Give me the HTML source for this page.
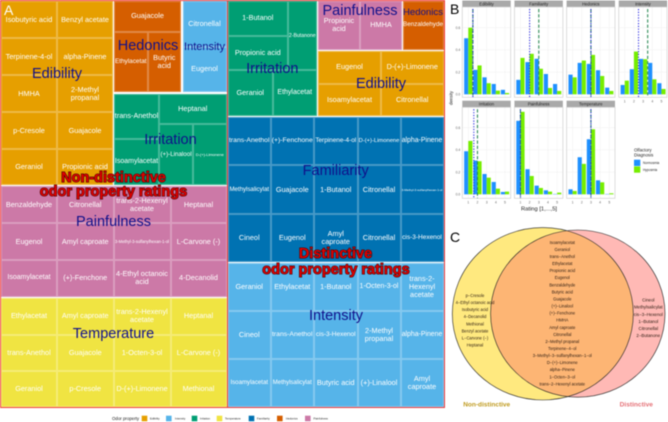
<!DOCTYPE html>
<html lang="en">
<head>
<meta charset="utf-8">
<title>Odor property ratings figure</title>
<style>
html,body{margin:0;padding:0;background:#fff}
#fig{position:relative;width:668px;height:422px;overflow:hidden;font-family:"Liberation Sans",sans-serif;filter:blur(.4px)}
.c{position:absolute;box-sizing:border-box;display:flex;align-items:center;justify-content:center;text-align:center;color:#fff;font-size:7.3px;line-height:8px;white-space:nowrap;border:.5px solid rgba(255,255,255,.28)}
.ed{background:#E69F00}.in{background:#56B4E9}.ir{background:#009E73}.te{background:#F0E442}.fa{background:#0072B2}.he{background:#D55E00}.pa{background:#CC79A7}
.g{position:absolute;transform:translate(-50%,-50%);font-size:14.5px;line-height:16px;color:#10108a;white-space:nowrap}
.o{position:absolute;transform:translate(-50%,-50%);font-size:14.5px;line-height:16px;font-weight:bold;color:#e00000;white-space:nowrap;-webkit-text-stroke:1.1px #3a0505;paint-order:stroke fill}
.b{position:absolute;box-sizing:border-box;border:1px solid #f33b3b;pointer-events:none}
.l{position:absolute;font-size:14px;line-height:14px}
svg{position:absolute;left:0;top:0}
</style>
</head>
<body>
<div id="fig">

<div>
<div class="c ed" style="left:1px;top:1px;width:56px;height:37px">Isobutyric acid</div>
<div class="c ed" style="left:57px;top:1px;width:56px;height:37px">Benzyl acetate</div>
<div class="c ed" style="left:1px;top:38px;width:56px;height:37px">Terpinene-4-ol</div>
<div class="c ed" style="left:57px;top:38px;width:56px;height:37px">alpha-Pinene</div>
<div class="c ed" style="left:1px;top:75px;width:56px;height:37px">HMHA</div>
<div class="c ed" style="left:57px;top:75px;width:56px;height:37px">2-Methyl<br>propanal</div>
<div class="c ed" style="left:1px;top:112px;width:56px;height:37px">p-Cresole</div>
<div class="c ed" style="left:57px;top:112px;width:56px;height:37px">Guajacole</div>
<div class="c ed" style="left:1px;top:149px;width:56px;height:36px">Geraniol</div>
<div class="c ed" style="left:57px;top:149px;width:56px;height:36px">Propionic acid</div>

<div class="c he" style="left:114px;top:1px;width:67px;height:30.5px">Guajacole</div>
<div class="c he" style="left:114px;top:31.5px;width:33.5px;height:60.5px;font-size:6.4px">Ethylacetat</div>
<div class="c he" style="left:147.5px;top:31.5px;width:33.5px;height:60.5px">Butyric<br>acid</div>

<div class="c in" style="left:182.5px;top:1px;width:44px;height:45.5px">Citronellal</div>
<div class="c in" style="left:182.5px;top:46.5px;width:44px;height:45.5px">Eugenol</div>

<div class="c ir" style="left:114px;top:93.5px;width:45px;height:45.5px">trans-Anethol</div>
<div class="c ir" style="left:114px;top:139px;width:45px;height:46px;font-size:7px">Isoamylacetat</div>
<div class="c ir" style="left:159px;top:93.5px;width:67.5px;height:30.5px">Heptanal</div>
<div class="c ir" style="left:159px;top:124px;width:34px;height:61px;font-size:6.2px">(+)-Linalool</div>
<div class="c ir" style="left:193px;top:124px;width:33.5px;height:61px;font-size:4px">D-(+)-Limonene</div>

<div class="c pa" style="left:1px;top:186px;width:56px;height:37px">Benzaldehyde</div>
<div class="c pa" style="left:57px;top:186px;width:56.5px;height:37px">Citronellal</div>
<div class="c pa" style="left:113.5px;top:186px;width:57px;height:37px">trans-2-Hexenyl<br>acetate</div>
<div class="c pa" style="left:170.5px;top:186px;width:56px;height:37px">Heptanal</div>
<div class="c pa" style="left:1px;top:223px;width:56px;height:37px">Eugenol</div>
<div class="c pa" style="left:57px;top:223px;width:56.5px;height:37px">Amyl caproate</div>
<div class="c pa" style="left:113.5px;top:223px;width:57px;height:37px;font-size:4.1px">3-Methyl-3-sulfanylhexan-1-ol</div>
<div class="c pa" style="left:170.5px;top:223px;width:56px;height:37px">L-Carvone (-)</div>
<div class="c pa" style="left:1px;top:260px;width:56px;height:36.5px;font-size:7px">Isoamylacetat</div>
<div class="c pa" style="left:57px;top:260px;width:56.5px;height:36.5px">(+)-Fenchone</div>
<div class="c pa" style="left:113.5px;top:260px;width:57px;height:36.5px">4-Ethyl octanoic<br>acid</div>
<div class="c pa" style="left:170.5px;top:260px;width:56px;height:36.5px">4-Decanolid</div>

<div class="c te" style="left:1px;top:297.5px;width:56px;height:37px">Ethylacetat</div>
<div class="c te" style="left:57px;top:297.5px;width:56.5px;height:37px">Amyl caproate</div>
<div class="c te" style="left:113.5px;top:297.5px;width:57px;height:37px">trans-2-Hexenyl<br>acetate</div>
<div class="c te" style="left:170.5px;top:297.5px;width:56px;height:37px">Heptanal</div>
<div class="c te" style="left:1px;top:334.5px;width:56px;height:36.5px">trans-Anethol</div>
<div class="c te" style="left:57px;top:334.5px;width:56.5px;height:36.5px">Guajacole</div>
<div class="c te" style="left:113.5px;top:334.5px;width:57px;height:36.5px">1-Octen-3-ol</div>
<div class="c te" style="left:170.5px;top:334.5px;width:56px;height:36.5px">L-Carvone (-)</div>
<div class="c te" style="left:1px;top:371px;width:56px;height:36px">Geraniol</div>
<div class="c te" style="left:57px;top:371px;width:56.5px;height:36px">p-Cresole</div>
<div class="c te" style="left:113.5px;top:371px;width:57px;height:36px">D-(+)-Limonene</div>
<div class="c te" style="left:170.5px;top:371px;width:56px;height:36px">Methional</div>

<div class="g" style="left:57px;top:74px">Edibility</div>
<div class="g" style="left:148px;top:46px">Hedonics</div>
<div class="g" style="left:204.5px;top:47px;font-size:11px">Intensity</div>
<div class="g" style="left:170.5px;top:139.5px">Irritation</div>
<div class="g" style="left:113.5px;top:222px">Painfulness</div>
<div class="g" style="left:113.5px;top:334px">Temperature</div>
<div class="b" style="left:0;top:0;width:227.5px;height:408px"></div>
</div>

<div>
<div class="c ir" style="left:228px;top:1px;width:59.5px;height:34.5px">1-Butanol</div>
<div class="c ir" style="left:228px;top:35.5px;width:59.5px;height:34.5px">Propionic acid</div>
<div class="c ir" style="left:287.5px;top:1px;width:29.5px;height:69px;font-size:5.2px">2-Butanone</div>
<div class="c ir" style="left:228px;top:70px;width:44.5px;height:46px">Geraniol</div>
<div class="c ir" style="left:272.5px;top:70px;width:44.5px;height:46px;font-size:7px">Ethylacetat</div>

<div class="c pa" style="left:318px;top:1px;width:42px;height:48.5px">Propionic<br>acid</div>
<div class="c pa" style="left:360px;top:1px;width:42px;height:48.5px">HMHA</div>
<div class="c he" style="left:402.5px;top:1px;width:41px;height:48.5px;font-size:6.3px">Benzaldehyde</div>

<div class="c ed" style="left:318px;top:51px;width:63px;height:32.5px">Eugenol</div>
<div class="c ed" style="left:381px;top:51px;width:62.5px;height:32.5px">D-(+)-Limonene</div>
<div class="c ed" style="left:318px;top:83.5px;width:63px;height:32.5px">Isoamylacetat</div>
<div class="c ed" style="left:381px;top:83.5px;width:62.5px;height:32.5px">Citronellal</div>

<div class="c fa" style="left:228px;top:117px;width:42.5px;height:48px;font-size:6.8px">trans-Anethol</div>
<div class="c fa" style="left:270.5px;top:117px;width:43.5px;height:48px;font-size:6.8px">(+)-Fenchone</div>
<div class="c fa" style="left:314px;top:117px;width:43.5px;height:48px;font-size:6.4px">Terpinene-4-ol</div>
<div class="c fa" style="left:357.5px;top:117px;width:43px;height:48px;font-size:5.8px">D-(+)-Limonene</div>
<div class="c fa" style="left:400.5px;top:117px;width:43px;height:48px;font-size:6.9px">alpha-Pinene</div>
<div class="c fa" style="left:228px;top:165px;width:42.5px;height:49px;font-size:6.1px">Methylsalicylat</div>
<div class="c fa" style="left:270.5px;top:165px;width:43.5px;height:49px">Guajacole</div>
<div class="c fa" style="left:314px;top:165px;width:43.5px;height:49px">1-Butanol</div>
<div class="c fa" style="left:357.5px;top:165px;width:43px;height:49px">Citronellal</div>
<div class="c fa" style="left:400.5px;top:165px;width:43px;height:49px;font-size:3.1px">3-Methyl-3-sulfanylhexan-1-ol</div>
<div class="c fa" style="left:228px;top:214px;width:42.5px;height:48px">Cineol</div>
<div class="c fa" style="left:270.5px;top:214px;width:43.5px;height:48px">Eugenol</div>
<div class="c fa" style="left:314px;top:214px;width:43.5px;height:48px">Amyl<br>caproate</div>
<div class="c fa" style="left:357.5px;top:214px;width:43px;height:48px">Citronellal</div>
<div class="c fa" style="left:400.5px;top:214px;width:43px;height:48px;font-size:6.5px">cis-3-Hexenol</div>

<div class="c in" style="left:228px;top:263px;width:42.5px;height:48px">Geraniol</div>
<div class="c in" style="left:270.5px;top:263px;width:43.5px;height:48px">Ethylacetat</div>
<div class="c in" style="left:314px;top:263px;width:43.5px;height:48px">1-Butanol</div>
<div class="c in" style="left:357.5px;top:263px;width:43px;height:48px;font-size:7px">1-Octen-3-ol</div>
<div class="c in" style="left:400.5px;top:263px;width:43px;height:48px">trans-2-<br>Hexenyl<br>acetate</div>
<div class="c in" style="left:228px;top:311px;width:42.5px;height:48px">Cineol</div>
<div class="c in" style="left:270.5px;top:311px;width:43.5px;height:48px;font-size:6.8px">trans-Anethol</div>
<div class="c in" style="left:314px;top:311px;width:43.5px;height:48px;font-size:6.5px">cis-3-Hexenol</div>
<div class="c in" style="left:357.5px;top:311px;width:43px;height:48px">2-Methyl<br>propanal</div>
<div class="c in" style="left:400.5px;top:311px;width:43px;height:48px;font-size:6.9px">alpha-Pinene</div>
<div class="c in" style="left:228px;top:359px;width:42.5px;height:48px;font-size:6.1px">Isoamylacetat</div>
<div class="c in" style="left:270.5px;top:359px;width:43.5px;height:48px;font-size:6px">Methylsalicylat</div>
<div class="c in" style="left:314px;top:359px;width:43.5px;height:48px">Butyric acid</div>
<div class="c in" style="left:357.5px;top:359px;width:43px;height:48px">(+)-Linalool</div>
<div class="c in" style="left:400.5px;top:359px;width:43px;height:48px">Amyl<br>caproate</div>

<div class="g" style="left:272.3px;top:69px">Irritation</div>
<div class="g" style="left:360px;top:11px">Painfulness</div>
<div class="g" style="left:423px;top:12.7px;font-size:9.6px">Hedonics</div>
<div class="g" style="left:381px;top:84px">Edibility</div>
<div class="g" style="left:335.7px;top:170.7px">Familiarity</div>
<div class="g" style="left:336px;top:316px">Intensity</div>
<div class="b" style="left:227px;top:0;width:217.5px;height:408px"></div>
</div>

<div class="o" style="left:113.5px;top:178px">Non-distinctive</div>
<div class="o" style="left:113.5px;top:191.5px">odor property ratings</div>
<div class="o" style="left:335.5px;top:254px">Distinctive</div>
<div class="o" style="left:336px;top:270px">odor property ratings</div>

<div class="l" style="left:4px;top:3px;color:#fff">A</div>
<div class="l" style="left:450px;top:2px;color:#000">B</div>
<div class="l" style="left:450px;top:230px;color:#000">C</div>

<svg width="668" height="422" viewBox="0 0 668 422" font-family="Liberation Sans, sans-serif">
  <g font-size="2.8" fill="#222">
    <text x="112" y="420" font-size="4.4">Odor property</text>
    <rect x="141.7" y="415.7" width="5.6" height="5.6" fill="#E69F00"/>
    <text x="150" y="419.5">Edibility</text>
    <rect x="166" y="415.7" width="5.6" height="5.6" fill="#56B4E9"/>
    <text x="175" y="419.5">Intensity</text>
    <rect x="191.7" y="415.7" width="5.6" height="5.6" fill="#009E73"/>
    <text x="200" y="419.5">Irritation</text>
    <rect x="216.7" y="415.7" width="5.6" height="5.6" fill="#F0E442"/>
    <text x="225" y="419.5">Temperature</text>
    <rect x="248.7" y="415.7" width="5.6" height="5.6" fill="#0072B2"/>
    <text x="257" y="419.5">Familiarity</text>
    <rect x="277" y="415.7" width="5.6" height="5.6" fill="#D55E00"/>
    <text x="286" y="419.5">Hedonics</text>
    <rect x="305" y="415.7" width="5.6" height="5.6" fill="#CC79A7"/>
    <text x="313.5" y="419.5">Painfulness</text>
  </g>

  <g id="facets"></g>

  <g>
    <text x="539" y="210.5" font-size="5.8" text-anchor="middle" fill="#222">Rating [1,...,5]</text>
    <text transform="translate(452.5,98) rotate(-90)" font-size="4.4" text-anchor="middle" fill="#222">density</text>
  </g>
  <g>
    <text x="634" y="151.5" font-size="4.4" fill="#222">Olfactory</text>
    <text x="634" y="156.5" font-size="4.4" fill="#222">Diagnosis</text>
    <rect x="634" y="159.7" width="6.3" height="6.3" fill="#1E90FF"/>
    <text x="643" y="164" font-size="3.2" fill="#222">Normosmia</text>
    <rect x="634" y="166.4" width="6.3" height="6.3" fill="#76EE00"/>
    <text x="643" y="171" font-size="3.2" fill="#222">Hyposmia</text>
  </g>

  <g>
    <defs><clipPath id="yc"><ellipse cx="542.8" cy="313.8" rx="90.5" ry="86.2"/></clipPath></defs>
    <ellipse cx="542.8" cy="313.8" rx="90.5" ry="86.2" fill="#FFE97F"/>
    <ellipse cx="577.8" cy="313.6" rx="87.2" ry="83.6" fill="#FFB9B5"/>
    <ellipse cx="577.8" cy="313.6" rx="87.2" ry="83.6" fill="#FDB574" clip-path="url(#yc)"/>
    <ellipse cx="542.8" cy="313.8" rx="90.5" ry="86.2" fill="none" stroke="#222" stroke-width=".6"/>
    <ellipse cx="577.8" cy="313.6" rx="87.2" ry="83.6" fill="none" stroke="#222" stroke-width=".6"/>
    <g font-size="4.1" text-anchor="middle" fill="#2a1a10">
      <text x="562.3" y="243.8">Isoamylacetat</text>
      <text x="562.3" y="250.9">Geraniol</text>
      <text x="562.3" y="258">trans−Anethol</text>
      <text x="562.3" y="265">Ethylacetat</text>
      <text x="562.3" y="272.1">Propionic acid</text>
      <text x="562.3" y="279.2">Eugenol</text>
      <text x="562.3" y="286.3">Benzaldehyde</text>
      <text x="562.3" y="293.4">Butyric acid</text>
      <text x="562.3" y="300.4">Guajacole</text>
      <text x="562.3" y="307.5">(+)−Linalool</text>
      <text x="562.3" y="314.6">(+)−Fenchone</text>
      <text x="562.3" y="321.7">HMHA</text>
      <text x="562.3" y="328.8">Amyl caproate</text>
      <text x="562.3" y="335.8">Citronellal</text>
      <text x="562.3" y="342.9">2−Methyl propanal</text>
      <text x="562.3" y="350">Terpinene−4−ol</text>
      <text x="562.3" y="357.1">3−Methyl−3−sulfanylhexan−1−ol</text>
      <text x="562.3" y="364.2">D−(+)−Limonene</text>
      <text x="562.3" y="371.2">alpha−Pinene</text>
      <text x="562.3" y="378.3">1−Octen−3−ol</text>
      <text x="562.3" y="385.4">trans−2−Hexenyl acetate</text>
    </g>
    <g font-size="4.1" text-anchor="middle" fill="#2a1a10">
      <text x="475" y="297">p−Cresole</text>
      <text x="475" y="304">4−Ethyl octanoic acid</text>
      <text x="475" y="311.1">Isobutyric acid</text>
      <text x="475" y="318.2">4−Decanolid</text>
      <text x="475" y="325.3">Methional</text>
      <text x="475" y="332.3">Benzyl acetate</text>
      <text x="475" y="339.4">L−Carvone (−)</text>
      <text x="475" y="346.5">Heptanal</text>
    </g>
    <g font-size="4.4" text-anchor="middle" fill="#2a1a10">
      <text x="648.3" y="301.5">Cineol</text>
      <text x="648.3" y="308.6">Methylsalicylat</text>
      <text x="648.3" y="315.8">cis−3−Hexenol</text>
      <text x="648.3" y="322.9">1−Butanol</text>
      <text x="648.3" y="330">Citronellal</text>
      <text x="648.3" y="337.2">2−Butanone</text>
    </g>
    <text x="486.7" y="406.5" font-size="6.5" font-weight="bold" text-anchor="middle" fill="#BF9A1E">Non-distinctive</text>
    <text x="636.3" y="406.5" font-size="6.6" font-weight="bold" text-anchor="middle" fill="#E57278">Distinctive</text>
  </g>
</svg>
</div>

<script>
// Rating histogram data
const ratingCategories = [1, 2, 3, 4, 5];
const densityTicks = [0, 0.2, 0.4, 0.6];
const facetNames = ['Edibility', 'Familiarity', 'Hedonics', 'Intensity', 'Irritation', 'Painfulness', 'Temperature'];

const edibilityNormosmia = [0.505, 0.22, 0.153, 0.093, 0.04];
const edibilityHyposmia = [0.6, 0.26, 0.1, 0.033, 0.012];
const familiarityNormosmia = [0.13, 0.29, 0.32, 0.183, 0.093];
const familiarityHyposmia = [0.328, 0.365, 0.23, 0.057, 0.03];
const hedonicsNormosmia = [0.177, 0.283, 0.274, 0.217, 0.06];
const hedonicsHyposmia = [0.153, 0.304, 0.355, 0.165, 0.03];
const intensityNormosmia = [0.084, 0.226, 0.319, 0.283, 0.1];
const intensityHyposmia = [0.123, 0.385, 0.316, 0.135, 0.048];
const irritationNormosmia = [0.388, 0.304, 0.183, 0.111, 0.021];
const irritationHyposmia = [0.481, 0.298, 0.15, 0.051, 0.024];
const painfulnessNormosmia = [0.662, 0.226, 0.078, 0.036, 0.003];
const painfulnessHyposmia = [0.743, 0.165, 0.057, 0.024, 0.015];
const temperatureNormosmia = [0.045, 0.334, 0.496, 0.126, 0.003];
const temperatureHyposmia = [0.03, 0.274, 0.586, 0.108, 0.009];

const medianNormosmia = [1.5, 2, 3, 2.5, 1.6, 1, 3];
const medianHyposmia = [1.5, 3, 3, 3.5, 2, 1, 3];

const normosmiaSeries = [edibilityNormosmia, familiarityNormosmia, hedonicsNormosmia, intensityNormosmia, irritationNormosmia, painfulnessNormosmia, temperatureNormosmia];
const hyposmiaSeries = [edibilityHyposmia, familiarityHyposmia, hedonicsHyposmia, intensityHyposmia, irritationHyposmia, painfulnessHyposmia, temperatureHyposmia];

const NS = 'http://www.w3.org/2000/svg';
const root = document.getElementById('facets');
const panelW = 48.4, panelGap = 3.75, firstLeft = 462.3;
const barW = 4.13, tickStep = 9.17;

function facetLeft(i) { return firstLeft + (i % 4) * (panelW + panelGap); }
function rowOf(i) { return i < 4 ? 0 : 1; }
function facetTop(i) { return rowOf(i) === 0 ? 7 : 107.3; }
function facetBottom(i) { return rowOf(i) === 0 ? 97.3 : 198.3; }
function stripTop(i) { return rowOf(i) === 0 ? 0.5 : 100.7; }
function xAxis(i, rating) { return facetLeft(i) + 6 + (rating - 1) * tickStep; }
function yAxis(i, density) { return (rowOf(i) === 0 ? 94.3 : 194.3) - density * 111; }

function make(tag, attrs, parent) {
  const node = document.createElementNS(NS, tag);
  Object.keys(attrs).forEach(function (k) { node.setAttribute(k, attrs[k]); });
  parent.appendChild(node);
  return node;
}

facetNames.forEach(function (name, i) {
  const key = name.toLowerCase();
  const left = facetLeft(i), top = facetTop(i), bottom = facetBottom(i);

  const group = make('g', {}, root);
  
  

  const strip = make('rect', { x: left, y: stripTop(i), width: panelW, height: top - stripTop(i), fill: '#a9a9a9' }, group);
  
  

  const stripText = make('text', { x: left + panelW / 2, y: top - 1.7, 'font-size': 4.2, 'text-anchor': 'middle', fill: '#222' }, group);
  
  
  stripText.textContent = name;

  densityTicks.forEach(function (d) {
    const grid = make('line', { x1: left, x2: left + panelW, y1: yAxis(i, d), y2: yAxis(i, d), stroke: '#ececec', 'stroke-width': 0.4 }, group);
    
    
    if (i % 4 === 0) {
      const label = make('text', { x: left - 2, y: yAxis(i, d) + 1.2, 'font-size': 3.4, 'text-anchor': 'end', fill: '#666' }, group);
      
      
      label.textContent = d.toFixed(1);
    }
  });

  ratingCategories.forEach(function (r) {
    const grid = make('line', { x1: xAxis(i, r), x2: xAxis(i, r), y1: top, y2: bottom, stroke: '#ececec', 'stroke-width': 0.4 }, group);
    
    
    if (i >= 3) {
      const label = make('text', { x: xAxis(i, r), y: bottom + 5, 'font-size': 3.4, 'text-anchor': 'middle', fill: '#666' }, group);
      
      
      label.textContent = r;
    }
  });

  ratingCategories.forEach(function (r, k) {
    const nVal = normosmiaSeries[i][k], hVal = hyposmiaSeries[i][k];
    const nBar = make('rect', { x: xAxis(i, r) - barW, y: yAxis(i, nVal), width: barW, height: yAxis(i, 0) - yAxis(i, nVal), fill: '#1E90FF' }, group);
    
    
    const hBar = make('rect', { x: xAxis(i, r), y: yAxis(i, hVal), width: barW, height: yAxis(i, 0) - yAxis(i, hVal), fill: '#76EE00' }, group);
    
    
  });

  const frame = make('rect', { x: left, y: top, width: panelW, height: bottom - top, fill: 'none', stroke: '#cfcfcf', 'stroke-width': 0.7 }, group);
  
  

  const hLine = make('line', { x1: xAxis(i, medianHyposmia[i]), x2: xAxis(i, medianHyposmia[i]), y1: top + 2, y2: bottom, stroke: '#2e8b57', 'stroke-width': 1.1, 'stroke-dasharray': '3.2 2' }, group);
  
  

  const nLine = make('line', { x1: xAxis(i, medianNormosmia[i]), x2: xAxis(i, medianNormosmia[i]), y1: top + 2, y2: bottom, stroke: '#2a2ae0', 'stroke-width': 1.1, 'stroke-dasharray': '1.2 1.6' }, group);
  
  
});
</script>
</body>
</html>
